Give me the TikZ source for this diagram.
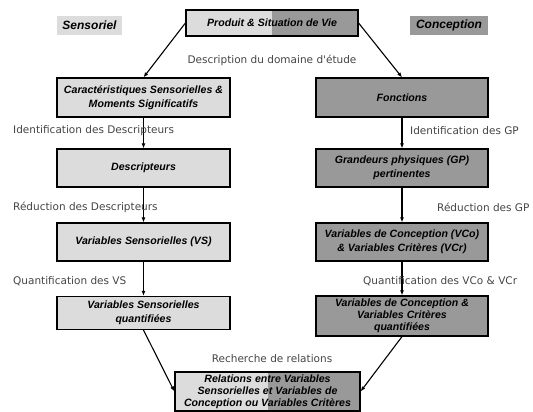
\documentclass[tikz,border=0pt]{standalone}
\usepackage{fontspec}
\setmainfont{Liberation Sans}
\newfontfamily\lblfont{DejaVu Sans}
\usetikzlibrary{arrows.meta}
\definecolor{lightfill}{HTML}{DCDCDC}
\definecolor{darkfill}{HTML}{999999}
\definecolor{lbltext}{HTML}{454545}
\tikzset{
  box/.style={draw=black, line width=1.2pt, align=center, inner sep=0pt,
    font=\fontsize{10.6}{14.5}\selectfont\bfseries\itshape},
  lbox/.style={box, fill=lightfill},
  dbox/.style={box, fill=darkfill},
  sbox/.style={box, path picture={
    \fill[lightfill] (path picture bounding box.north west) rectangle (path picture bounding box.south);
    \fill[darkfill] (path picture bounding box.north) rectangle (path picture bounding box.south east);}},
  lbl/.style={font=\lblfont\fontsize{10.5}{12}\selectfont, text=lbltext, inner sep=0pt},
  head/.style={font=\fontsize{12}{13}\selectfont\bfseries\itshape, inner sep=0pt, minimum height=19pt},
  arr/.style={-{Latex[length=5pt,width=4pt]}, line width=1.1pt},
}
\begin{document}
\begin{tikzpicture}[x=1pt,y=-1pt]
\useasboundingbox (0,0) rectangle (533,412);
% headers
\node[head, fill=lightfill, minimum width=65pt] (sens) at (89.5,25.5) {Sensoriel};
\node[head, fill=darkfill, minimum width=78pt] (conc) at (449,25.5) {Conception};
% top
\node[sbox, minimum width=172pt, minimum height=26pt] (top) at (272,23) {Produit \& Situation de Vie};
% left column
\node[lbox, minimum width=173pt, minimum height=39pt] (c1) at (143.5,97.5) {Caractéristiques Sensorielles \&\\Moments Significatifs};
\node[lbox, minimum width=173pt, minimum height=38pt] (c2) at (143.5,168) {Descripteurs};
\node[lbox, minimum width=173pt, minimum height=38pt] (c3) at (143.5,242) {Variables Sensorielles (VS)};
\node[lbox, minimum width=173pt, minimum height=33pt] (c4) at (143.5,313) {Variables Sensorielles\\quantifiées};
% right column
\node[dbox, minimum width=172pt, minimum height=39pt] (f1) at (402,97.5) {Fonctions};
\node[dbox, minimum width=172pt, minimum height=38pt] (f2) at (402,168) {Grandeurs physiques (GP)\\pertinentes};
\node[dbox, minimum width=172pt, minimum height=38pt] (f3) at (402,242) {Variables de Conception (VCo)\\\& Variables Critères (VCr)};
\node[dbox, minimum width=172pt, minimum height=40pt, font=\fontsize{10.6}{12}\selectfont\bfseries\itshape] (f4) at (402,316) {Variables de Conception \&\\Variables Critères\\quantifiées};
% bottom
\node[sbox, minimum width=185pt, minimum height=39pt, font=\fontsize{10.6}{12}\selectfont\bfseries\itshape] (rel) at (267.5,391.5) {Relations entre Variables\\Sensorielles et Variables de\\Conception ou Variables Critères};
% arrows
\draw[arr] (top.west) -- (c1.north);
\draw[arr] (top.east) -- (f1.north);
\draw[arr] (c1.south) -- (c2.north);
\draw[arr] (c2.south) -- (c3.north);
\draw[arr] (c3.south) -- (c4.north);
\draw[arr] (f1.south) -- (f2.north);
\draw[arr] (f2.south) -- (f3.north);
\draw[arr] (f3.south) -- (f4.north);
\draw[arr] (c4.south) -- (rel.west);
\draw[arr] (f4.south) -- (rel.east);
% labels
\node[lbl] (ldesc) at (272,60) {Description du domaine d'étude};
\node[lbl, anchor=west] (lid1) at (13,131) {Identification des Descripteurs};
\node[lbl, anchor=west] (lid2) at (410,131) {Identification des GP};
\node[lbl, anchor=west] (lred1) at (13,207) {Réduction des Descripteurs};
\node[lbl, anchor=west] (lred2) at (437,207) {Réduction des GP};
\node[lbl, anchor=west] (lq1) at (13,281) {Quantification des VS};
\node[lbl, anchor=west] (lq2) at (363,281) {Quantification des VCo \& VCr};
\node[lbl] (lrech) at (272,359) {Recherche de relations};
\end{tikzpicture}
\end{document}
